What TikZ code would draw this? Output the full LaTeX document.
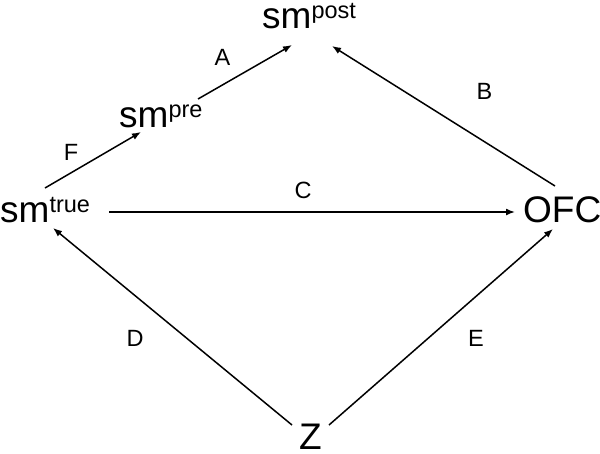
\documentclass[tikz,border=0pt]{standalone}
\usepackage{fontspec}
\setmainfont{Liberation Sans}
\usetikzlibrary{arrows.meta}
\newcommand\smsup[1]{sm\raisebox{10pt}{\fontsize{23.5}{24}\selectfont #1}}
\begin{document}
\begin{tikzpicture}[x=1pt,y=-1pt,
  big/.style={font=\fontsize{37}{40}\selectfont, inner sep=0pt, anchor=base west},
  lab/.style={font=\fontsize{23.5}{25}\selectfont, inner sep=0pt},
  arr/.style={-{Latex[length=9pt,width=7pt]}, line width=1.5pt}]
\useasboundingbox (0,0) rectangle (600,453);
% nodes
\node[big] (true) at (0,222) {\smsup{true}};
\node[big] (pre)  at (119,127) {\smsup{pre}};
\node[big] (post) at (262,28) {\smsup{post}};
\node[big] (ofc)  at (523,222) {OFC};
\node[big] (z)    at (299,449) {Z};
% labels
\node[lab] (lA) at (222.5,57.5) {A};
\node[lab] (lB) at (484.5,91.5) {B};
\node[lab] (lC) at (303,190.5) {C};
\node[lab] (lD) at (135,338.5) {D};
\node[lab] (lE) at (476,338) {E};
\node[lab] (lF) at (71,152) {F};
% connectors
\draw[arr] ([shift={(45,-34)}]true.base west) -- ([shift={(22,5)}]pre.base west);
\draw[arr] ([shift={(79,-28)}]pre.base west) -- ([shift={(30,17)}]post.base west);
\draw[arr] ([shift={(32,-36)}]ofc.base west) -- ([shift={(70,18)}]post.base west);
\draw[arr] ([shift={(109,-10)}]true.base west) -- ([shift={(-8,-10)}]ofc.base west);
\draw[arr] ([shift={(-7,-24)}]z.base west) -- ([shift={(53,6)}]true.base west);
\draw[arr] ([shift={(30,-24)}]z.base west) -- ([shift={(30,7)}]ofc.base west);
\end{tikzpicture}
\end{document}
